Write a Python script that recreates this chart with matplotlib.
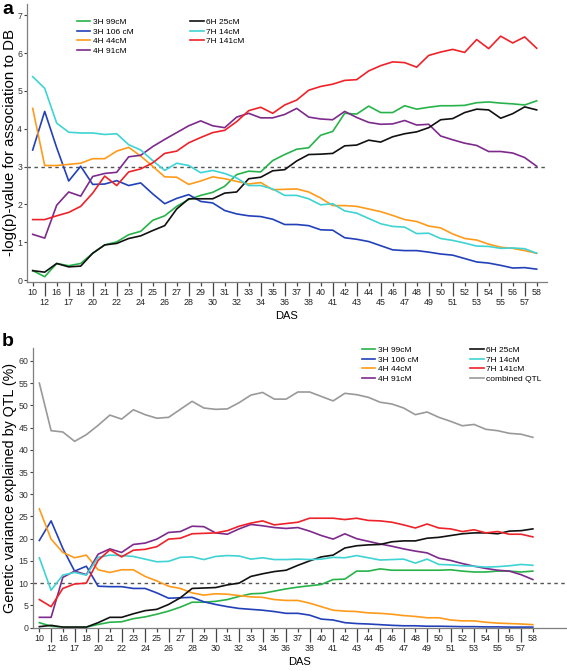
import matplotlib
matplotlib.use("Agg")
import matplotlib.pyplot as plt

plt.rcParams['font.family'] = ['Liberation Sans', 'DejaVu Sans']

das = ["10", "12", "16", "17", "18", "20", "21", "22", "23", "24", "25", "26", "27", "28",
       "29", "30", "31", "32", "33", "34", "35", "36", "37", "38", "40", "41", "42", "43",
       "44", "45", "46", "47", "48", "49", "50", "51", "52", "53", "54", "55", "56", "57", "58"]

labels_a = ["3H 99cM", "3H 106 cM", "4H 44cM", "4H 91cM", "6H 25cM", "7H 14cM", "7H 141cM"]
labels_b = labels_a + ["combined QTL"]
colors = ["#27b34a", "#2241b8", "#ff9a1a", "#7d2a8c", "#111111", "#3fd3d3", "#ee2229", "#999999"]

# Panel a: -log(p)
a_3H99 = [0.25, 0.09, 0.44, 0.38, 0.44, 0.71, 0.93, 1.01, 1.20, 1.29, 1.58, 1.70, 1.95, 2.13,
          2.24, 2.32, 2.48, 2.79, 2.88, 2.86, 3.16, 3.32, 3.46, 3.50, 3.83, 3.93, 4.41, 4.39,
          4.60, 4.43, 4.43, 4.61, 4.52, 4.57, 4.61, 4.61, 4.62, 4.69, 4.71, 4.68, 4.66, 4.63, 4.74]
a_3H106 = [3.44, 4.46, 3.50, 2.62, 3.01, 2.53, 2.54, 2.63, 2.50, 2.57, 2.28, 2.02, 2.16, 2.26,
           2.08, 2.04, 1.84, 1.75, 1.70, 1.68, 1.61, 1.47, 1.47, 1.44, 1.33, 1.32, 1.12, 1.08,
           1.02, 0.91, 0.80, 0.78, 0.78, 0.74, 0.69, 0.66, 0.57, 0.48, 0.45, 0.39, 0.32, 0.33, 0.29]
a_4H44 = [4.54, 3.03, 3.03, 3.06, 3.09, 3.21, 3.21, 3.41, 3.51, 3.28, 3.01, 2.73, 2.72, 2.53,
          2.62, 2.73, 2.68, 2.61, 2.54, 2.58, 2.39, 2.40, 2.41, 2.33, 2.17, 1.97, 1.97, 1.95,
          1.88, 1.81, 1.71, 1.60, 1.55, 1.43, 1.38, 1.22, 1.10, 1.06, 0.95, 0.87, 0.84, 0.78, 0.71]
a_4H91 = [1.21, 1.11, 1.98, 2.33, 2.22, 2.74, 2.82, 2.85, 3.26, 3.30, 3.53, 3.72, 3.90, 4.08,
          4.21, 4.08, 4.03, 4.31, 4.41, 4.29, 4.29, 4.38, 4.54, 4.31, 4.26, 4.24, 4.46, 4.30,
          4.17, 4.12, 4.13, 4.22, 4.10, 4.12, 3.81, 3.71, 3.62, 3.56, 3.40, 3.40, 3.36, 3.24, 3.01]
a_6H25 = [0.25, 0.21, 0.44, 0.35, 0.37, 0.71, 0.93, 0.97, 1.10, 1.17, 1.31, 1.44, 1.88, 2.15,
          2.15, 2.15, 2.30, 2.33, 2.68, 2.72, 2.89, 2.92, 3.15, 3.32, 3.33, 3.35, 3.55, 3.57,
          3.70, 3.65, 3.79, 3.87, 3.92, 4.03, 4.24, 4.27, 4.43, 4.52, 4.50, 4.28, 4.40, 4.58, 4.50]
a_7H14 = [5.38, 5.07, 4.15, 3.91, 3.89, 3.89, 3.85, 3.87, 3.58, 3.44, 3.16, 2.90, 3.09, 3.03,
          2.84, 2.90, 2.82, 2.70, 2.50, 2.50, 2.41, 2.24, 2.24, 2.15, 1.99, 2.02, 1.83, 1.77,
          1.63, 1.49, 1.42, 1.40, 1.23, 1.24, 1.10, 1.05, 0.98, 0.90, 0.89, 0.84, 0.85, 0.83, 0.71]
a_7H141 = [1.60, 1.60, 1.70, 1.79, 1.95, 2.30, 2.75, 2.50, 2.86, 2.94, 3.10, 3.35, 3.41, 3.63,
           3.77, 3.90, 3.96, 4.19, 4.48, 4.57, 4.41, 4.63, 4.76, 5.02, 5.12, 5.18, 5.28, 5.30,
           5.53, 5.67, 5.77, 5.75, 5.63, 5.94, 6.03, 6.10, 6.02, 6.36, 6.12, 6.45, 6.27, 6.43, 6.13]

# Panel b: genetic variance explained (%)
b_3H99 = [1.1, 0.3, 0.1, 0.1, 0.1, 0.7, 1.2, 1.3, 2.0, 2.4, 3.0, 3.7, 4.6, 5.7,
          5.7, 5.9, 6.3, 7.0, 7.6, 7.7, 8.2, 8.7, 9.1, 9.4, 9.7, 10.8, 10.9, 12.7,
          12.7, 13.2, 12.9, 12.9, 12.9, 12.9, 12.9, 13.0, 12.7, 12.5, 12.5, 12.7, 12.7, 12.5, 12.7]
b_3H106 = [19.6, 24.0, 17.8, 12.7, 13.8, 9.3, 9.2, 9.2, 8.8, 8.8, 7.8, 6.6, 6.7, 6.8,
           5.8, 5.2, 4.7, 4.3, 4.1, 3.9, 3.6, 3.2, 3.2, 2.8, 1.9, 1.7, 1.1, 0.9,
           0.8, 0.65, 0.5, 0.4, 0.4, 0.3, 0.3, 0.25, 0.2, 0.2, 0.15, 0.15, 0.1, 0.1, 0.1]
b_4H44 = [26.7, 19.9, 16.9, 15.7, 16.3, 13.0, 12.4, 13.0, 13.0, 11.5, 10.5, 9.3, 8.8, 7.8,
          7.3, 7.6, 7.5, 7.2, 6.9, 6.8, 6.3, 6.1, 6.1, 5.5, 4.7, 3.9, 3.7, 3.6,
          3.3, 3.2, 3.0, 2.7, 2.5, 2.2, 2.2, 1.7, 1.5, 1.5, 1.2, 1.0, 0.9, 0.8, 0.65]
b_4H91 = [2.3, 2.3, 11.3, 12.7, 11.9, 16.5, 17.7, 16.9, 18.7, 19.0, 19.9, 21.4, 21.6, 22.8,
          22.7, 21.3, 21.0, 22.2, 23.2, 22.9, 22.5, 22.3, 22.5, 21.7, 20.7, 19.9, 21.1, 20.0,
          19.4, 18.8, 18.3, 17.7, 17.2, 16.8, 15.6, 15.1, 14.4, 13.8, 13.3, 12.9, 12.7, 11.9, 10.8]
b_6H25 = [0.2, 0.5, 0.1, 0.1, 0.1, 1.1, 2.3, 2.3, 3.1, 3.8, 4.1, 5.2, 6.7, 8.8,
          8.9, 9.0, 9.6, 10.0, 11.5, 12.1, 12.6, 12.9, 14.0, 15.0, 15.9, 16.3, 17.9, 18.4,
          18.6, 18.7, 19.3, 19.5, 19.5, 20.1, 20.3, 20.7, 21.1, 21.3, 21.3, 21.1, 21.7, 21.8, 22.2]
b_7H14 = [15.7, 8.4, 11.8, 12.4, 11.8, 15.8, 16.3, 16.2, 16.0, 15.4, 14.8, 14.9, 15.8, 15.9,
          15.3, 16.0, 16.2, 16.1, 15.4, 15.7, 15.3, 15.3, 15.4, 15.3, 15.4, 15.8, 15.7, 16.2,
          15.7, 15.2, 15.3, 15.4, 14.5, 15.4, 14.2, 14.1, 13.9, 13.8, 13.6, 13.7, 13.9, 14.2, 14.0]
b_7H141 = [6.3, 4.7, 8.8, 9.8, 10.0, 15.1, 17.5, 15.9, 17.4, 17.6, 18.2, 19.9, 20.1, 21.1,
           21.2, 21.3, 21.8, 22.8, 23.5, 24.0, 23.1, 23.4, 23.7, 24.6, 24.6, 24.6, 24.3, 24.6,
           24.1, 24.0, 23.7, 23.1, 22.4, 23.3, 22.4, 22.2, 21.6, 22.0, 21.3, 21.6, 21.0, 21.0, 20.4]
b_comb = [55.0, 44.3, 44.0, 41.9, 43.4, 45.5, 47.8, 46.9, 49.0, 47.9, 47.1, 47.3, 49.1, 50.9,
          49.4, 49.1, 49.2, 50.6, 52.3, 52.9, 51.4, 51.4, 53.0, 53.0, 52.0, 51.0, 52.7, 52.4,
          51.8, 50.7, 50.3, 49.4, 47.9, 48.5, 47.3, 46.4, 45.4, 45.7, 44.6, 44.3, 43.7, 43.5, 42.8]

series_a = [a_3H99, a_3H106, a_4H44, a_4H91, a_6H25, a_7H14, a_7H141]
series_b = [b_3H99, b_3H106, b_4H44, b_4H91, b_6H25, b_7H14, b_7H141, b_comb]

W, H = 567, 671
fig = plt.figure(figsize=(W / 100, H / 100), dpi=100)


def px_axes(l, t, r, b):
    return fig.add_axes([l / W, 1 - b / H, (r - l) / W, (b - t) / H])


axis_col = "#7f7f7f"


def style_axes(ax, yticks, ylabel, ylab_size, ylab_x, thresh):
    x = list(range(len(das)))
    for sp in ["top", "right"]:
        ax.spines[sp].set_visible(False)
    for sp in ["left", "bottom"]:
        ax.spines[sp].set_color(axis_col)
        ax.spines[sp].set_linewidth(0.9)
    ax.set_xticks(x[0::2])
    ax.set_xticklabels(das[0::2])
    ax.set_xticks(x[1::2], minor=True)
    ax.set_xticklabels(das[1::2], minor=True)
    ax.tick_params(axis="x", which="major", length=3.2, width=0.9, color="#444444",
                   labelsize=6.4, pad=1.2, labelcolor="#222222")
    ax.tick_params(axis="x", which="minor", length=10, width=0.9, color="#444444",
                   labelsize=6.4, pad=1.2, labelcolor="#222222")
    ax.set_yticks(yticks)
    ax.tick_params(axis="y", length=2.5, width=0.8, color="#444444", labelsize=6.3,
                   pad=1, labelcolor="#333333")
    ax.set_ylabel(ylabel, fontsize=ylab_size)
    bb = ax.get_position()
    ax.yaxis.set_label_coords((ylab_x / W - bb.x0) / bb.width, 0.5)
    ax.set_xlabel("DAS", fontsize=8, labelpad=3)
    ax.axhline(thresh, color="#555555", lw=1.0, ls=(0, (2.5, 2.5)), zorder=0)


# Panel a
ax1 = px_axes(27, 4, 547, 282)
x = list(range(len(das)))
for s, c, lab in zip(series_a, colors, labels_a):
    ax1.plot(x, s, color=c, lw=1.2, label=lab)
ax1.set_xlim(-0.475, 42.86)
ax1.set_ylim(-0.05, 7.3)
style_axes(ax1, range(0, 8), "-log(p)-value for association to DB", 10.8, 17.2, 3)
ax1.legend(loc="upper left", bbox_to_anchor=(77 / W, 1 - 18 / H), bbox_transform=fig.transFigure,
           ncol=2, frameon=False, fontsize=6, handlelength=1.6, handletextpad=0.3,
           columnspacing=6.8, labelspacing=0.22, borderpad=0, borderaxespad=0)

# Panel b
ax2 = px_axes(33, 348, 566, 628)
for s, c, lab in zip(series_b, colors, labels_b):
    ax2.plot(x, s, color=c, lw=1.2, label=lab)
ax2.set_xlim(-0.54, 44.82)
ax2.set_ylim(-0.1, 62.9)
style_axes(ax2, range(0, 61, 5), "Genetic variance explained by QTL (%)", 10.3, 17, 10)
ax2.legend(loc="upper left", bbox_to_anchor=(362 / W, 1 - 346 / H), bbox_transform=fig.transFigure,
           ncol=2, frameon=False, fontsize=6, handlelength=1.6, handletextpad=0.3,
           columnspacing=6.2, labelspacing=0.22, borderpad=0, borderaxespad=0)

fig.text(2 / W, 1 - 1 / H, "a", fontsize=14, fontweight="bold", va="top", ha="left")
fig.text(2 / W, 1 - 333 / H, "b", fontsize=14, fontweight="bold", va="top", ha="left")

fig.savefig("out.png", dpi=100)
